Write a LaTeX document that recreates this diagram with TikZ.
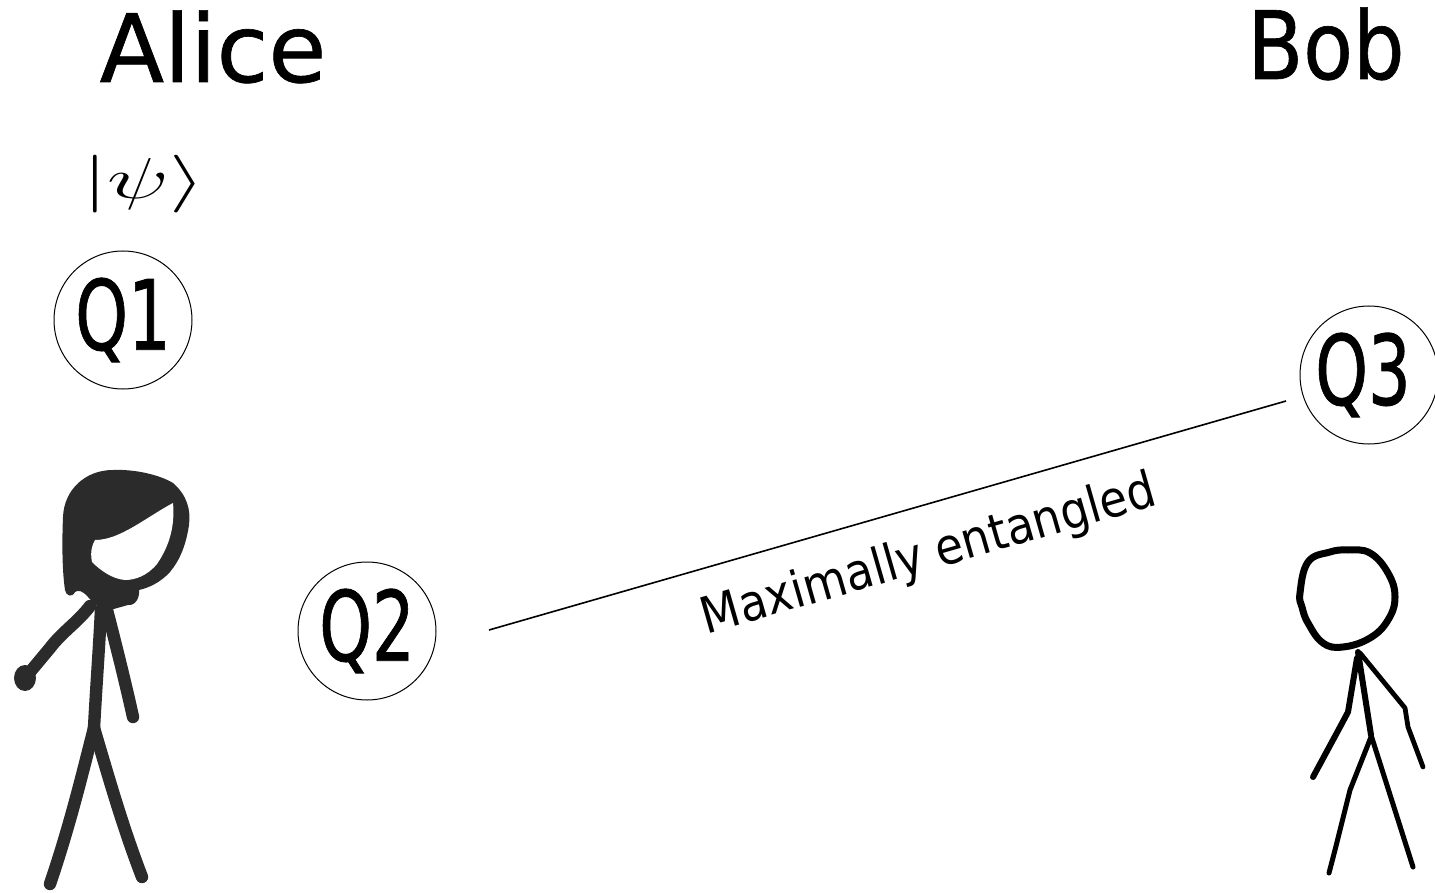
\documentclass[tikz,border=0pt]{standalone}
\usepackage{fontspec}
\setmainfont{DejaVu Sans}
\newfontfamily\heavyfont[FakeBold=0.7]{DejaVu Sans}
\newfontfamily\labelfont[FakeBold=0.9]{DejaVu Sans}
\definecolor{aliceink}{HTML}{2B2B2B}
\newcommand{\qlabel}[1]{\scalebox{0.72}[1.04]{\labelfont\fontsize{46.6}{54}\selectfont #1}}
\tikzset{
  x=0.5pt,y=-0.5pt,
  title/.style={font=\heavyfont\fontsize{41}{48}\selectfont,inner sep=0pt,anchor=base},
  qubit/.style={circle,draw,line width=0.5pt,minimum size=69pt,inner sep=0pt},
  alicelimb/.style={draw=aliceink,line width=6.2pt,line cap=round,line join=round},
  boblimb/.style={draw=black,line cap=round,line join=round}
}
\begin{document}
\begin{tikzpicture}
\useasboundingbox (0,0) rectangle (1435,893);
% titles and the state label
\node[title] (alice) at (213,82) {\scalebox{1.15}{Alice}};
\node[title] (bob) at (1326,79) {\scalebox{0.99}[1.15]{Bob}};
\node[inner sep=0pt,font=\fontsize{30}{36}\selectfont] (psi) at (144,184) {\scalebox{1.85}[1.16]{$|\psi\rangle$}};
% qubits
\node[qubit] (q1) at (123,320) {\qlabel{Q1}};
\node[qubit] (q2) at (367,631) {\qlabel{Q2}};
\node[qubit] (q3) at (1369,375) {\hspace*{-6pt}\qlabel{Q3}};
% entanglement link
\coordinate (linkA) at (489,630);
\coordinate (linkB) at (1286,401);
\draw[line width=0.8pt] (linkA) -- (linkB);
\node[rotate=16,inner sep=0pt,font=\fontsize{22.5}{26}\selectfont] (ent) at (929,556) {\scalebox{1}[1.12]{Maximally entangled}};
% Alice: limbs
\draw[alicelimb] (101,610) .. controls (99,650) and (96,690) .. (94,728);
\draw[alicelimb] (107,610) .. controls (116,645) and (126,685) .. (133,717);
\draw[alicelimb] (94,728) .. controls (82,775) and (70,825) .. (50,884);
\draw[alicelimb] (94,728) .. controls (108,775) and (122,825) .. (142,877);
\draw[alicelimb] (90,606) .. controls (78,622) and (62,632) .. (50,648) -- (30,672);
\fill[aliceink] (25,678) ellipse [x radius=11,y radius=13];
% Alice: hair and head
\fill[aliceink] (63,517) .. controls (64,490) and (85,470) .. (113,470)
  .. controls (135,469) and (160,475) .. (173,483)
  .. controls (187,495) and (191,510) .. (189,525)
  .. controls (186,545) and (180,560) .. (170,572)
  .. controls (160,583) and (148,588) .. (139,590)
  .. controls (140,598) and (135,606) .. (128,605)
  -- (103,612) -- (88,597)
  .. controls (82,590) and (78,590) .. (75,592)
  .. controls (72,598) and (66,596) .. (65,590)
  .. controls (62,570) and (62,540) .. (63,517) -- cycle;
\fill[white] (95,540) .. controls (120,540) and (145,518) .. (173,503)
  .. controls (175,525) and (170,545) .. (157,564)
  .. controls (147,576) and (135,580) .. (125,580)
  .. controls (112,579) and (100,570) .. (92,562)
  .. controls (90,552) and (92,545) .. (95,540) -- cycle;
% Bob
\draw[boblimb,line width=3.5pt] plot[smooth cycle,tension=0.7] coordinates {(1300,593) (1308,562) (1330,552) (1348,550) (1370,553) (1388,573) (1395,597) (1388,620) (1370,638) (1343,647) (1323,643) (1308,623) (1302,607)};
\draw[boblimb,line width=3pt] (1358,652) -- (1371,735);
\draw[boblimb,line width=2.5pt] (1371,737) -- (1350,790) -- (1335,850) -- (1329,873);
\draw[boblimb,line width=2.5pt] (1371,735) -- (1413,867);
\draw[boblimb,line width=2.4pt] (1360,653) -- (1405,708) -- (1408,727) -- (1423,767);
\draw[boblimb,line width=3pt] (1357,658) -- (1348,712) -- (1340,727) -- (1313,777);
\end{tikzpicture}
\end{document}
